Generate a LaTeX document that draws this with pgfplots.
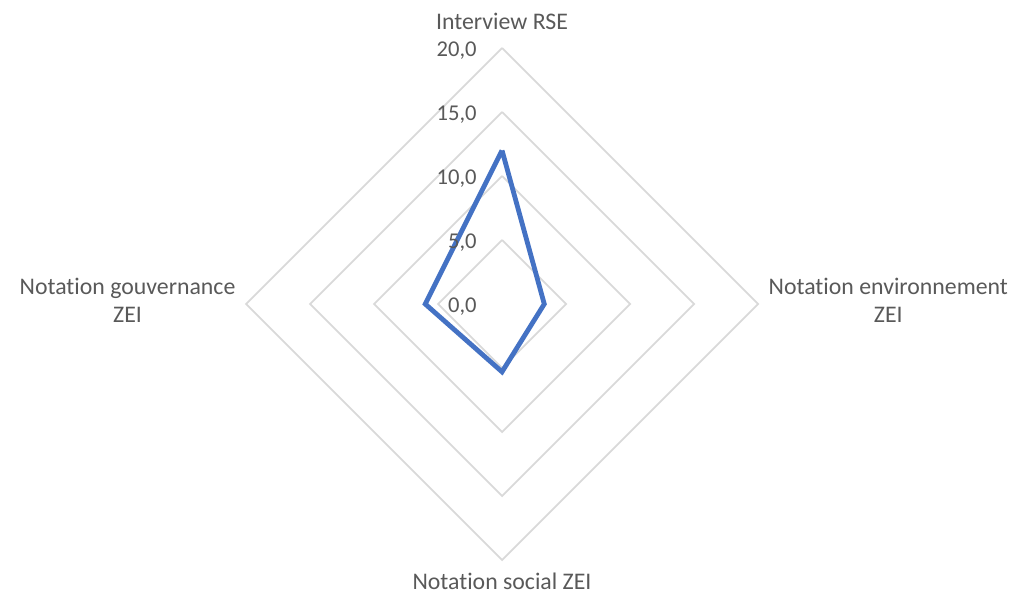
\documentclass[border=0pt]{standalone}
\usepackage{pgfplots}
\pgfplotsset{compat=1.18}
\usepackage{fontspec}
\setmainfont{Carlito}[Ligatures={NoCommon}]
\definecolor{gridgray}{HTML}{D9D9D9}
\definecolor{txtgray}{HTML}{595959}
\definecolor{serieblue}{HTML}{4472C4}
\tikzset{
  lbl/.style={text=txtgray, font=\fontsize{11.9}{14}\selectfont, inner sep=0pt},
  num/.style={text=txtgray, font=\fontsize{11.3}{13}\selectfont, inner sep=0pt, anchor=east},
}
\begin{document}
\begin{tikzpicture}
\begin{axis}[
    scale only axis,
    width=506pt, height=298.5pt,
    xmin=-39.22, xmax=39.84,
    ymin=-22.89, ymax=23.75,
    hide axis,
    clip=false,
]
% grid diamonds (5, 10, 15, 20)
\addplot[gridgray, line width=0.9pt] coordinates {(0,5) (5,0) (0,-5) (-5,0) (0,5)};
\addplot[gridgray, line width=0.9pt] coordinates {(0,10) (10,0) (0,-10) (-10,0) (0,10)};
\addplot[gridgray, line width=0.9pt] coordinates {(0,15) (15,0) (0,-15) (-15,0) (0,15)};
\addplot[gridgray, line width=0.9pt] coordinates {(0,20) (20,0) (0,-20) (-20,0) (0,20)};

% series: Interview RSE (top), environnement (right), social (bottom), gouvernance (left)
\addplot[serieblue, line width=2.4pt] coordinates {
    (0,12.0) (3.3,0) (0,-5.3) (-6.0,0) (0,12.0)
};

% radial tick labels
\node[num] at (axis cs:-1.95,-0.2) {0,0};
\node[num] at (axis cs:-1.95,4.8) {5,0};
\node[num] at (axis cs:-1.95,9.8) {10,0};
\node[num] at (axis cs:-1.95,14.8) {15,0};
\node[num] at (axis cs:-1.95,19.8) {20,0};

% category labels
\node[lbl] at (axis cs:0,22.1) {Interview RSE};
\node[lbl, align=center, anchor=west] at (axis cs:20.8,0.3) {Notation environnement\\ZEI};
\node[lbl, anchor=north] at (axis cs:0,-21.0) {Notation social ZEI};
\node[lbl, align=center, anchor=east] at (axis cs:-20.8,0.3) {Notation gouvernance\\ZEI};
\end{axis}
\pgfresetboundingbox
\path (current axis.south west) rectangle (current axis.north east);
\end{tikzpicture}
\end{document}
